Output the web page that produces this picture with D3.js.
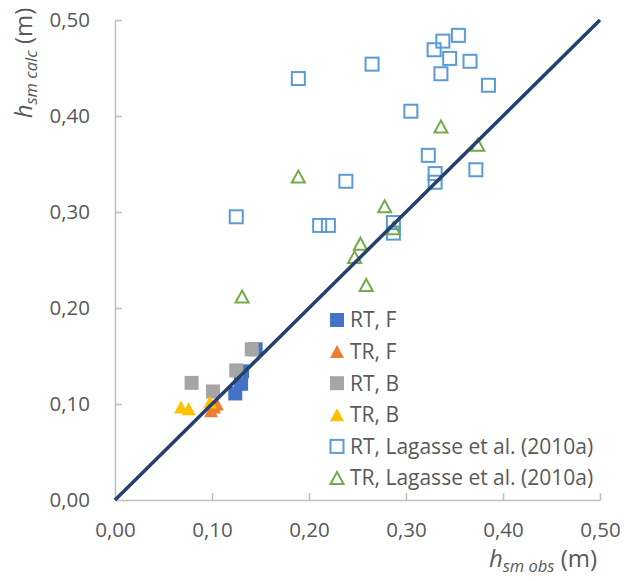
<!DOCTYPE html>
<html><head><meta charset="utf-8">
<script src="https://cdn.jsdelivr.net/npm/d3@7"></script>
<style>body{margin:0;background:#fff}svg{display:block}text{font-family:"Open Sans",sans-serif;fill:#595959}</style>
</head><body><div id="c"></div>
<script>
const tickValues = [0, 0.1, 0.2, 0.3, 0.4, 0.5];
const tickLabels = ["0,00", "0,10", "0,20", "0,30", "0,40", "0,50"];
const seriesNames = ["RT, F", "TR, F", "RT, B", "TR, B", "RT, Lagasse et al. (2010a)", "TR, Lagasse et al. (2010a)"];
const rtF = [[0.145,0.157],[0.131,0.134],[0.130,0.121],[0.124,0.111]];
const trF = [[0.099,0.093],[0.102,0.097],[0.105,0.100]];
const rtB = [[0.141,0.157],[0.125,0.135],[0.079,0.122],[0.101,0.113]];
const trB = [[0.068,0.097],[0.076,0.095],[0.098,0.102]];
const rtLag = [[0.189,0.439],[0.265,0.454],[0.354,0.484],[0.338,0.478],[0.329,0.469],[0.345,0.460],[0.336,0.444],[0.366,0.457],[0.385,0.432],[0.305,0.405],[0.323,0.359],[0.330,0.340],[0.330,0.331],[0.372,0.344],[0.238,0.332],[0.211,0.286],[0.220,0.286],[0.125,0.295],[0.287,0.289],[0.287,0.278]];
const trLag = [[0.336,0.389],[0.374,0.370],[0.278,0.306],[0.189,0.337],[0.253,0.267],[0.247,0.253],[0.259,0.224],[0.131,0.212],[0.287,0.283]];
const lineData = [[0,0],[0.5,0.5]];

const W = 624, H = 581;
const svg = d3.select("#c").append("svg").attr("width", W).attr("height", H);
const x = d3.scaleLinear().domain([0, 0.5]).range([115, 600]);
const y = d3.scaleLinear().domain([0, 0.5]).range([500, 20]);
const axisColor = "#bfbfbf";

const fmt = d => tickLabels[tickValues.indexOf(d)] || "";
const xAxis = svg.append("g").attr("transform", `translate(0,${y(0)})`)
  .call(d3.axisBottom(x).tickValues(tickValues).tickFormat(fmt).tickSizeInner(-7).tickSizeOuter(0).tickPadding(22));
const yAxis = svg.append("g").attr("transform", `translate(${x(0)},0)`)
  .call(d3.axisLeft(y).tickValues(tickValues).tickFormat(fmt).tickSizeInner(-7).tickSizeOuter(0).tickPadding(25));
[xAxis, yAxis].forEach(g => {
  g.select(".domain").attr("stroke", axisColor).attr("stroke-width", 1.5);
  g.selectAll(".tick line").attr("stroke", axisColor).attr("stroke-width", 1.5);
  g.selectAll(".tick text").attr("font-size", 20.5).attr("fill", "#595959").attr("font-family", "Open Sans");
});
xAxis.selectAll(".tick").filter(d => d === 0).select("line").remove();
yAxis.selectAll(".tick").filter(d => d === 0).select("line").remove();

const tri = (w, h) => `M0,${-h/2}L${w/2},${h/2}L${-w/2},${h/2}Z`;
const specs = [
  {data: rtF, shape: "sq", fill: "#4472c4", stroke: "none"},
  {data: trF, shape: "tri", fill: "#ed7d31", stroke: "none"},
  {data: rtB, shape: "sq", fill: "#a5a5a5", stroke: "none"},
  {data: trB, shape: "tri", fill: "#ffc000", stroke: "none"},
  {data: rtLag, shape: "sq", fill: "none", stroke: "#5b9bd5"},
  {data: trLag, shape: "tri", fill: "none", stroke: "#70ad47"}
];
function marker(g, s) {
  if (s.shape === "sq") {
    const size = s.fill === "none" ? 13 : 14;
    g.append("rect").attr("x", -size/2).attr("y", -size/2).attr("width", size).attr("height", size)
      .attr("fill", s.fill).attr("stroke", s.stroke).attr("stroke-width", 2);
  } else {
    g.append("path").attr("d", s.fill === "none" ? tri(13, 12) : tri(14, 13))
      .attr("fill", s.fill).attr("stroke", s.stroke).attr("stroke-width", 2).attr("stroke-linejoin", "miter");
  }
}
specs.forEach(s => {
  svg.append("g").selectAll("g").data(s.data).join("g")
    .attr("transform", d => `translate(${x(d[0])},${y(d[1])})`)
    .each(function () { marker(d3.select(this), s); });
});

svg.append("path").datum(lineData)
  .attr("d", d3.line().x(d => x(d[0])).y(d => y(d[1])))
  .attr("stroke", "#24406e").attr("stroke-width", 3.5).attr("fill", "none");

// legend
const leg = svg.append("g");
seriesNames.forEach((n, i) => {
  const gy = 320 + i * 31.6;
  const g = leg.append("g").attr("transform", `translate(337,${gy})`);
  marker(g, specs[i]);
  leg.append("text").attr("x", 350).attr("y", gy).attr("dy", "0.35em").attr("font-size", 21).text(n);
});

// axis titles
const xt = svg.append("text").attr("x", 543).attr("y", 567).attr("text-anchor", "middle").attr("font-size", 24);
xt.append("tspan").attr("font-style", "italic").text("h");
xt.append("tspan").attr("font-style", "italic").attr("font-size", 16.5).attr("dy", 5).text("sm obs");
xt.append("tspan").attr("dy", -5).text(" (m)");

const yt = svg.append("text").attr("transform", "translate(32,63) rotate(-90)").attr("text-anchor", "middle").attr("font-size", 24);
yt.append("tspan").attr("font-style", "italic").text("h");
yt.append("tspan").attr("font-style", "italic").attr("font-size", 16.5).attr("dy", 5).text("sm calc");
yt.append("tspan").attr("dy", -5).text(" (m)");
</script></body></html>
